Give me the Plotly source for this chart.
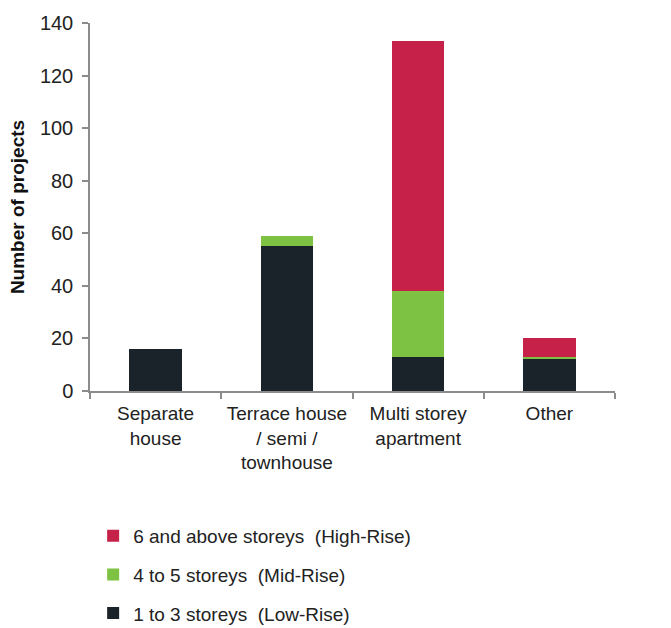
import plotly.graph_objects as go

categories = ["Separate<br>house", "Terrace house<br>/ semi /<br>townhouse", "Multi storey<br>apartment", "Other"]
low_rise = [16, 55, 13, 12]
mid_rise = [0, 4, 25, 1]
high_rise = [0, 0, 95, 7]

series_names = ["1 to 3 storeys  (Low-Rise)", "4 to 5 storeys  (Mid-Rise)", "6 and above storeys  (High-Rise)"]
colors = ["#1A232A", "#7DC242", "#C62148"]
y_ticks = [0, 20, 40, 60, 80, 100, 120, 140]

FONT = "Arial, Liberation Sans, sans-serif"

fig = go.Figure()
for i, (name, vals, col, grp) in enumerate(zip(series_names, [low_rise, mid_rise, high_rise], colors, ["a", "b", "c"])):
    fig.add_trace(go.Bar(
        x=categories, y=vals, name=name, legendgroup=grp, legendrank=3 - i,
        marker=dict(color=col, line=dict(width=0)),
        width=0.4,
    ))

fig.update_layout(
    barmode="stack",
    width=671, height=628,
    margin=dict(l=90, r=56, t=20, b=237),
    paper_bgcolor="white", plot_bgcolor="white",
    font=dict(family=FONT, size=19, color="#222222"),
    showlegend=True,
    legend=dict(
        traceorder="grouped",
        orientation="v",
        x=0.006, xanchor="left",
        yref="container",
        y=0.177, yanchor="top",
        font=dict(size=19, color="#222222"),
        tracegroupgap=11,
        itemwidth=30,
        bgcolor="rgba(0,0,0,0)",
    ),
    xaxis=dict(
        type="category",
        showline=True, linecolor="#8C8C8C", linewidth=2,
        ticks="outside", tickson="boundaries", ticklen=6, tickcolor="#8C8C8C", tickwidth=1.5,
        showgrid=False,
        ticklabelstandoff=4,
        tickfont=dict(size=19, color="#222222"),
    ),
    yaxis=dict(
        range=[0, 140],
        tickvals=y_ticks,
        showline=True, linecolor="#8C8C8C", linewidth=1.5,
        ticks="outside", ticklen=6, tickcolor="#8C8C8C", tickwidth=1.5,
        showgrid=False, zeroline=False,
        ticklabelstandoff=5,
        tickfont=dict(size=20, color="#222222"),
        title=dict(text="<b>Number of projects</b>", font=dict(size=19, color="#111111"), standoff=10),
    ),
)

fig.write_html("out.html")
